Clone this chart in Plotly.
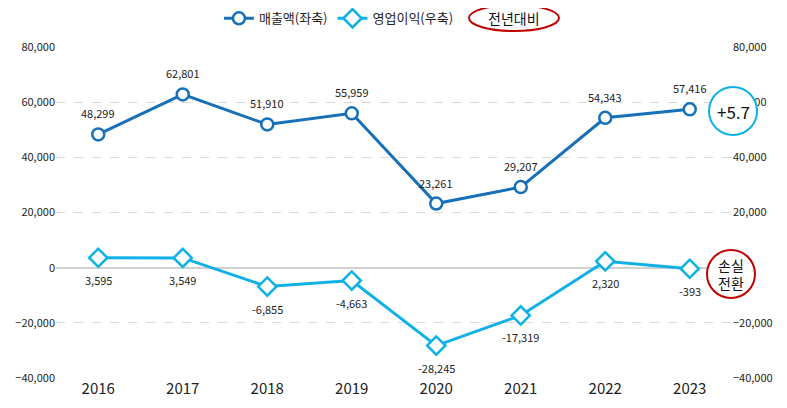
import plotly.graph_objects as go

years = ["2016", "2017", "2018", "2019", "2020", "2021", "2022", "2023"]
sales = [48299, 62801, 51910, 55959, 23261, 29207, 54343, 57416]
profit = [3595, 3549, -6855, -4663, -28245, -17319, 2320, -393]
left_ticks = [-40000, -20000, 0, 20000, 40000, 60000, 80000]
right_ticks = [-40000, -20000, 20000, 40000, 60000, 80000]
sales_name = "매출액(좌축)"
profit_name = "영업이익(우축)"
yoy_label = "전년대비"
sales_note = "+5.7"
profit_note = "손실<br>전환"

DARK = "#1570b9"
LIGHT = "#0db1e6"
RED = "#c00000"
FONT = "Noto Sans CJK KR"

fig = go.Figure()
fig.add_trace(go.Scatter(
    x=years, y=sales, name=sales_name, mode="lines+markers",
    line=dict(color=DARK, width=3),
    marker=dict(symbol="circle", size=12, color="white", line=dict(color=DARK, width=2.5)),
    yaxis="y",
))
fig.add_trace(go.Scatter(
    x=years, y=profit, name=profit_name, mode="lines+markers",
    line=dict(color=LIGHT, width=3),
    marker=dict(symbol="diamond", size=14, color="white", line=dict(color=LIGHT, width=2.5)),
    yaxis="y2",
))

annotations = []
for i, v in enumerate(sales):
    annotations.append(dict(x=i, y=v, xref="x", yref="y", text=f"{v:,}", showarrow=False,
                            yshift=21, font=dict(family=FONT, size=11, color="#222")))
for i, v in enumerate(profit):
    annotations.append(dict(x=i, y=v, xref="x", yref="y2", text=f"{v:,}", showarrow=False,
                            yshift=-22, font=dict(family=FONT, size=11, color="#222")))

shapes = []
shapes.append(dict(type="circle", xref="paper", yref="paper", xsizemode="pixel", ysizemode="pixel",
                   xanchor=1.0015, yanchor=0.8066, x0=-24, x1=24, y0=-24, y1=24,
                   line=dict(color=LIGHT, width=2), fillcolor="white", layer="above"))
annotations.append(dict(x=1.0015, y=0.8066, xref="paper", yref="paper", text=sales_note, showarrow=False,
                        xanchor="center", yanchor="middle", font=dict(family=FONT, size=17, color="#111")))
shapes.append(dict(type="circle", xref="paper", yref="paper", xsizemode="pixel", ysizemode="pixel",
                   xanchor=0.9985, yanchor=0.3142, x0=-24, x1=24, y0=-24, y1=24,
                   line=dict(color=RED, width=2), fillcolor="white", layer="above"))
annotations.append(dict(x=0.9985, y=0.3142, xref="paper", yref="paper", text=profit_note, showarrow=False,
                        xanchor="center", yanchor="middle", font=dict(family=FONT, size=14, color="#111")))
shapes.append(dict(type="circle", xref="paper", yref="paper", xsizemode="pixel", ysizemode="pixel",
                   xanchor=0.6775, yanchor=1.0876, x0=-45, x1=45, y0=-13, y1=13,
                   line=dict(color=RED, width=2), fillcolor="white", layer="above"))
annotations.append(dict(x=0.6775, y=1.0876, xref="paper", yref="paper", text=yoy_label, showarrow=False,
                        xanchor="center", yanchor="middle", font=dict(family=FONT, size=14, color="#111")))

yaxis_common = dict(range=[-40000, 80000], tickformat=",", tickmode="array",
                    tickfont=dict(family=FONT, size=11, color="#222"), fixedrange=True, automargin=False)

fig.update_layout(
    width=779, height=400,
    margin=dict(l=48, r=55, t=39, b=30, autoexpand=False),
    paper_bgcolor="white", plot_bgcolor="white",
    font=dict(family=FONT, color="#222"),
    showlegend=True,
    legend=dict(orientation="h", x=0.241, y=1.132, xanchor="left", yanchor="top",
                font=dict(family=FONT, size=13, color="#222"), itemwidth=30,
                bgcolor="rgba(0,0,0,0)", tracegroupgap=0),
    xaxis=dict(type="category", range=[-0.5, 7.5], showgrid=False, zeroline=False, showline=False,
               ticks="", automargin=False, tickfont=dict(family=FONT, size=15, color="#222")),
    yaxis=dict(**yaxis_common, tickvals=left_ticks, showgrid=True, gridcolor="#d9d9d9", griddash="dash",
               gridwidth=1, zeroline=True, zerolinecolor="#d0d0d0", zerolinewidth=1.5,
               showline=False, ticks=""),
    yaxis2=dict(**yaxis_common, tickvals=right_ticks, overlaying="y", side="right", showgrid=False,
                zeroline=False, showline=False, ticks=""),
    shapes=shapes,
    annotations=annotations,
)

fig.write_html("out.html")
